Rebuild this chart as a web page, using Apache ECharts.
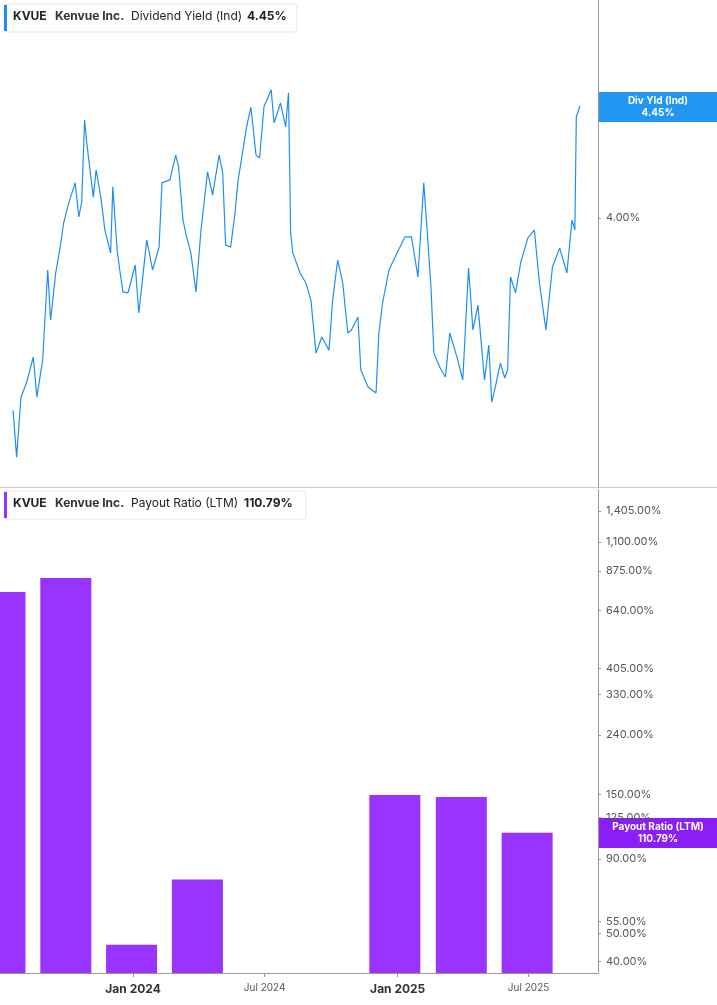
<!DOCTYPE html>
<html><head><meta charset="utf-8">
<script src="https://cdn.jsdelivr.net/npm/echarts@6/dist/echarts.min.js"></script>
<style>html,body{margin:0;padding:0;background:#fff}#c{width:717px;height:1005px}</style>
</head><body><div id="c"></div>
<script>
const yieldDates = ["2023-07-19","2023-07-24","2023-07-30","2023-08-07","2023-08-16","2023-08-21","2023-08-29","2023-09-05","2023-09-09","2023-09-16","2023-09-22","2023-09-27","2023-10-04","2023-10-13","2023-10-18","2023-10-22","2023-10-26","2023-10-29","2023-11-07","2023-11-11","2023-11-18","2023-11-23","2023-12-01","2023-12-04","2023-12-10","2023-12-14","2023-12-18","2023-12-25","2024-01-04","2024-01-09","2024-01-20","2024-01-28","2024-02-06","2024-02-10","2024-02-21","2024-02-29","2024-03-04","2024-03-10","2024-03-15","2024-03-21","2024-03-28","2024-04-04","2024-04-13","2024-04-20","2024-04-29","2024-05-04","2024-05-08","2024-05-15","2024-05-21","2024-05-25","2024-06-06","2024-06-12","2024-06-19","2024-06-24","2024-06-30","2024-07-10","2024-07-14","2024-07-23","2024-07-30","2024-08-03","2024-08-06","2024-08-09","2024-08-19","2024-08-27","2024-09-03","2024-09-10","2024-09-18","2024-09-28","2024-10-03","2024-10-10","2024-10-17","2024-10-24","2024-10-29","2024-11-07","2024-11-11","2024-11-21","2024-12-02","2024-12-06","2024-12-11","2024-12-20","2024-12-31","2025-01-11","2025-01-20","2025-01-29","2025-02-06","2025-02-11","2025-02-16","2025-02-20","2025-02-28","2025-03-08","2025-03-14","2025-03-24","2025-04-01","2025-04-09","2025-04-15","2025-04-22","2025-05-01","2025-05-07","2025-05-11","2025-05-16","2025-05-23","2025-05-29","2025-06-02","2025-06-06","2025-06-13","2025-06-20","2025-06-30","2025-07-09","2025-07-16","2025-07-25","2025-08-03","2025-08-13","2025-08-23","2025-08-30","2025-09-03","2025-09-05","2025-09-10"];
const yieldValues = [3.228,3.039,3.280,3.341,3.441,3.280,3.429,3.791,3.590,3.779,3.879,3.980,4.060,4.141,4.004,4.064,4.394,4.302,4.084,4.193,4.072,3.952,3.859,4.125,3.871,3.783,3.703,3.699,3.811,3.618,3.912,3.791,3.883,4.141,4.153,4.253,4.205,3.992,3.924,3.859,3.703,3.952,4.185,4.092,4.253,4.181,3.891,3.883,4.020,4.145,4.366,4.446,4.253,4.241,4.446,4.515,4.382,4.462,4.366,4.503,3.940,3.859,3.779,3.739,3.670,3.457,3.522,3.469,3.670,3.831,3.739,3.538,3.550,3.602,3.389,3.321,3.297,3.538,3.658,3.791,3.859,3.924,3.924,3.763,4.141,3.940,3.723,3.457,3.401,3.361,3.538,3.441,3.349,3.799,3.550,3.650,3.349,3.489,3.260,3.321,3.417,3.357,3.389,3.763,3.699,3.819,3.920,3.952,3.739,3.550,3.803,3.879,3.779,3.992,3.952,4.406,4.45];
const payoutDates = ["2023-07-01","2023-09-30","2023-12-30","2024-03-30","2024-12-28","2025-03-30","2025-06-29"];
const payoutValues = [741,828,45.7,76.5,149.3,146.9,110.79];
const yieldTicks = [4];
const payoutTicks = [40,50,55,90,125,150,240,330,405,640,875,1100,1405];
const xTickDates = ["2024-01-01","2024-07-01","2025-01-01","2025-07-01"];
const xTickLabels = ["Jan 2024","Jul 2024","Jan 2025","Jul 2025"];

const F = 'Inter, "Noto Sans", sans-serif';
const ts = d => Date.parse(d + "T00:00:00Z");
const xMin = ts("2023-07-01"), xMax = ts("2025-10-05");
const xTicks = xTickDates.map(ts);
function fmtPct(v){return v.toLocaleString('en-US',{minimumFractionDigits:2,maximumFractionDigits:2})+'%';}
function xFmt(v){let best=0,bd=Infinity;xTicks.forEach((t,i)=>{const d=Math.abs(t-v);if(d<bd){bd=d;best=i;}});const s=xTickLabels[best];return s.startsWith('Jan')?'{b|'+s+'}':'{n|'+s+'}';}

const chart = echarts.init(document.getElementById('c'));
chart.setOption({
  animation:false,
  grid:[{left:0,right:119,top:0,height:487},{left:0,right:119,top:490,bottom:32}],
  xAxis:[
    {type:'value',gridIndex:0,min:xMin,max:xMax,axisLine:{show:false},axisTick:{show:false},axisLabel:{show:false},splitLine:{show:false}},
    {type:'value',gridIndex:1,min:xMin,max:xMax,axisLine:{show:true,onZero:false,lineStyle:{color:'#999'}},
     axisTick:{show:true,customValues:xTicks,length:4,lineStyle:{color:'#999'}},
     axisLabel:{customValues:xTicks,formatter:xFmt,margin:10,rich:{b:{fontFamily:F,fontSize:12,fontWeight:'bold',color:'#333'},n:{fontFamily:F,fontSize:10,color:'#555'}}},
     splitLine:{show:false}}
  ],
  yAxis:[
    {type:'value',gridIndex:0,position:'right',min:2.919,max:4.876,axisLine:{show:true,lineStyle:{color:'#999'}},
     axisTick:{show:true,customValues:yieldTicks,length:3,lineStyle:{color:'#999'}},
     axisLabel:{customValues:yieldTicks,formatter:v=>fmtPct(v),fontFamily:F,fontSize:11,color:'#555',margin:8},splitLine:{show:false}},
    {type:'log',gridIndex:1,position:'right',min:36.6,max:1658,axisLine:{show:true,lineStyle:{color:'#999'}},
     axisTick:{show:true,customValues:payoutTicks,length:3,lineStyle:{color:'#999'}},
     axisLabel:{customValues:payoutTicks,formatter:v=>fmtPct(v),fontFamily:F,fontSize:11,color:'#555',margin:8},splitLine:{show:false},minorSplitLine:{show:false}}
  ],
  series:[
    {type:'line',xAxisIndex:0,yAxisIndex:0,data:yieldDates.map((d,i)=>[ts(d),yieldValues[i]]),showSymbol:false,lineStyle:{color:'#1e8ef5',width:1.2}},
    {type:'bar',xAxisIndex:1,yAxisIndex:1,data:payoutDates.map((d,i)=>[ts(d),payoutValues[i]]),barWidth:51,itemStyle:{color:'#9933ff'}}
  ],
  graphic:[
    {type:'line',shape:{x1:0,y1:487.5,x2:717,y2:487.5},style:{stroke:'#ccc',lineWidth:1}},
    {type:'rect',shape:{x:4,y:4,width:293,height:28,r:3},style:{fill:'#fff',stroke:'#e6e6e6'}},
    {type:'rect',shape:{x:4,y:5,width:3,height:26},style:{fill:'#1e8ef5'}},
    {type:'text',x:13,y:10,style:{text:'KVUE',font:'bold 12px '+F,fill:'#222'}},
    {type:'text',x:55,y:10,style:{text:'Kenvue Inc.',font:'bold 12px '+F,fill:'#333'}},
    {type:'text',x:131,y:10,style:{text:'Dividend Yield (Ind)',font:'12px '+F,fill:'#222'}},
    {type:'text',x:247,y:10,style:{text:'4.45%',font:'bold 12px '+F,fill:'#222'}},
    {type:'rect',shape:{x:4,y:491,width:302,height:28,r:3},style:{fill:'#fff',stroke:'#e6e6e6'}},
    {type:'rect',shape:{x:4,y:492,width:3,height:26},style:{fill:'#9933ff'}},
    {type:'text',x:13,y:497,style:{text:'KVUE',font:'bold 12px '+F,fill:'#222'}},
    {type:'text',x:55,y:497,style:{text:'Kenvue Inc.',font:'bold 12px '+F,fill:'#333'}},
    {type:'text',x:131,y:497,style:{text:'Payout Ratio (LTM)',font:'12px '+F,fill:'#222'}},
    {type:'text',x:244,y:497,style:{text:'110.79%',font:'bold 12px '+F,fill:'#222'}},
    {type:'rect',shape:{x:599,y:92,width:118,height:30},style:{fill:'#2196f3'}},
    {type:'text',x:658,y:107,style:{text:'Div Yld (Ind)\n4.45%',font:'bold 10px '+F,fill:'#fff',align:'center',verticalAlign:'middle',lineHeight:12}},
    {type:'rect',shape:{x:599,y:818,width:118,height:30},style:{fill:'#8a1ef7'}},
    {type:'text',x:658,y:833,style:{text:'Payout Ratio (LTM)\n110.79%',font:'bold 10px '+F,fill:'#fff',align:'center',verticalAlign:'middle',lineHeight:12}}
  ]
});
</script></body></html>
